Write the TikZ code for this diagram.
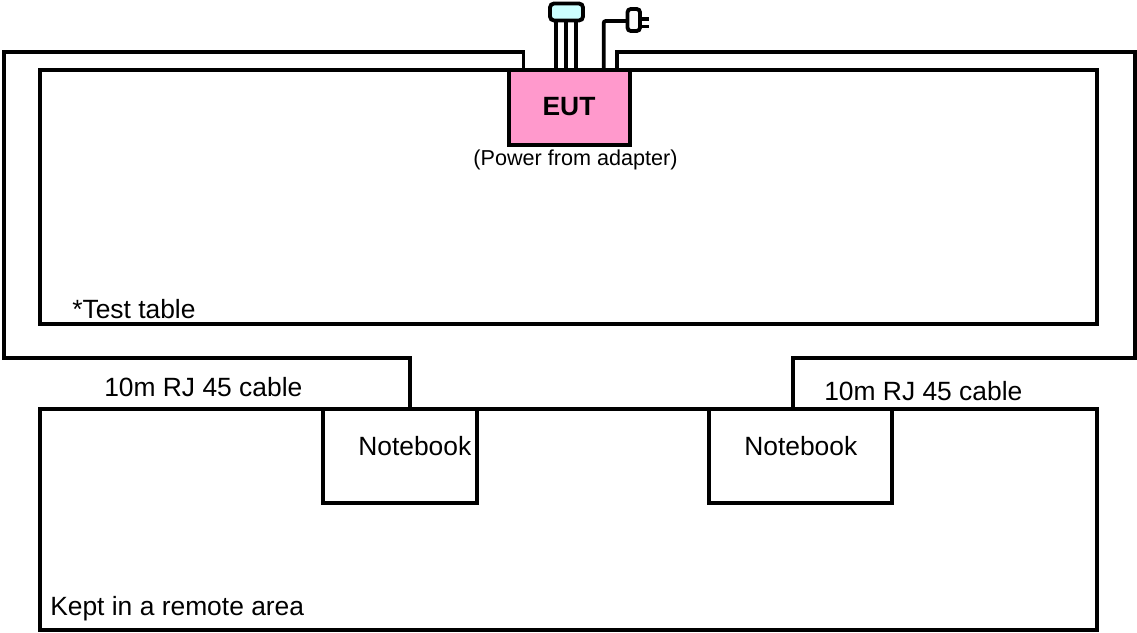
\documentclass[tikz,border=0pt]{standalone}
\usepackage{fontspec}
\setmainfont{Liberation Sans}
\definecolor{eutpink}{HTML}{FF99CC}
\definecolor{devcyan}{HTML}{CCFFFF}
\tikzset{
  px/.style={x=0.75pt,y=-0.75pt},
  wire/.style={draw=black,line width=2.9pt,line join=miter},
  thin wire/.style={draw=black,line width=2.8pt},
  box/.style={draw=black,line width=2.9pt,minimum width=0pt,inner sep=0pt,rectangle},
  lbl/.style={inner sep=0pt,font=\fontsize{19.8pt}{22pt}\selectfont,anchor=west},
}
\begin{document}
\begin{tikzpicture}[px]
\useasboundingbox (0,0) rectangle (1137,632);
% boxes as named corners
\coordinate (tableNW) at (40,70);
\coordinate (tableSE) at (1097,324);
\coordinate (remoteNW) at (40,409);
\coordinate (remoteSE) at (1097,630);
\draw[wire] (tableNW) rectangle (tableSE);
\draw[wire] (remoteNW) rectangle (remoteSE);
\node[box,fill=white,minimum width=115.5pt,minimum height=70.5pt] (nb1) at (400,456) {};
\node[box,fill=white,minimum width=137pt,minimum height=70.5pt] (nb2) at (800.5,456) {};
\node[box,fill=eutpink,minimum width=90.75pt,minimum height=56.25pt] (eut) at (569.5,107.5) {};
\node[inner sep=0pt,font=\fontsize{19.8pt}{22pt}\selectfont\bfseries] at (569,107) {EUT};
\node[inner sep=0pt,font=\fontsize{16.2pt}{18pt}\selectfont] (pw) at (575.5,160) {(Power from adapter)};
% cables
\coordinate (lA) at (523.5,70);
\coordinate (rA) at (617,70);
\draw[wire] (lA) -- (523.5,52) -- (4,52) -- (4,358) -- (410,358) -- (410,409);
\draw[wire] (rA) -- (617,52) -- (1135,52) -- (1135,358) -- (793,358) -- (793,409);
% device
\foreach \x in {556,566,576} \draw[thin wire] (\x,20) -- (\x,70);
\draw[wire,fill=devcyan,rounded corners=3pt] (550,3.5) rectangle (583,20.5);
% plug
\draw[thin wire,rounded corners=1.5pt] (603.7,70) -- (603.7,21) -- (628,21);
\draw[thin wire] (640,18.7) -- (649,18.7);
\draw[thin wire] (640,26.5) -- (649,26.5);
\draw[wire,fill=white,rounded corners=2.5pt] (627.5,9) rectangle (640,31);
% labels
\node[lbl] (t1) at (72,309) {*Test table};
\node[lbl] (t2) at (104,387) {10m RJ 45 cable};
\node[lbl] (t3) at (824,391) {10m RJ 45 cable};
\node[lbl] (t4) at (50,609) {Kept in a remote area};
\node[lbl] (t5) at (358,446) {Notebook};
\node[lbl] (t6) at (744,446) {Notebook};
\end{tikzpicture}
\end{document}
